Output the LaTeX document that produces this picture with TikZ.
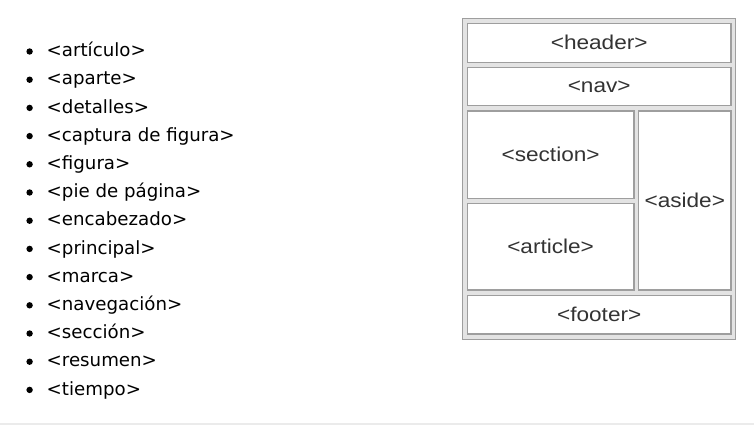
\documentclass[tikz,border=0pt]{standalone}
\usepackage{fontspec}
\setmainfont{DejaVu Sans}
\newfontfamily\arialf{Liberation Sans}
\definecolor{boxborder}{HTML}{9E9E9E}
\definecolor{outerfill}{HTML}{E3E3E3}
\definecolor{boxtext}{HTML}{333333}
\definecolor{sepline}{HTML}{EBEBEB}
\newcommand{\widetxt}[1]{\raisebox{-1.5pt}{\scalebox{1.13}[1]{#1}}}
\begin{document}
\begin{tikzpicture}[x=1pt,y=1pt,
  item/.style={anchor=base west,inner sep=0pt,font=\fontsize{18.2}{20}\selectfont},
  dot/.style={circle,fill=black,inner sep=0pt,minimum size=6.4pt},
  outerbox/.style={draw=boxborder,fill=outerfill,line width=1.3pt,inner sep=0pt,outer sep=0pt},
  areabox/.style={draw=boxborder,fill=white,line width=1.3pt,inner sep=0pt,outer sep=0pt,text=boxtext,font=\arialf\fontsize{20}{24}\selectfont}]
\useasboundingbox (0,0) rectangle (754,-439);
% list
\foreach \t [count=\i from 0] in {<artículo>,<aparte>,<detalles>,<captura de figura>,<figura>,<pie de página>,<encabezado>,<principal>,<marca>,<navegación>,<sección>,<resumen>,<tiempo>}{
  \node[dot] (b\i) at (29.6,{-56.7-28.2*\i+5.2}) {};
  \node[item] (t\i) at (46.5,{-56.7-28.2*\i}) {\t};
}
% layout diagram
\node[outerbox,minimum width=273.2pt,minimum height=321pt] (outer) at (598.9,-178.8) {};
\node[areabox,minimum width=263.7pt,minimum height=39pt] (header) at (599.2,-42.8) {\widetxt{<header>}};
\node[areabox,minimum width=263.7pt,minimum height=38.4pt] (nav) at (599.2,-86.5) {\widetxt{<nav>}};
\node[areabox,minimum width=166.7pt,minimum height=87.3pt] (section) at (550.6,-154.7) {\widetxt{<section>}};
\node[areabox,minimum width=166.7pt,minimum height=86.7pt] (article) at (550.6,-246.7) {\widetxt{<article>}};
\node[areabox,minimum width=92.3pt,minimum height=179pt] (aside) at (684.8,-200.5) {\widetxt{<aside>}};
\node[areabox,minimum width=263.7pt,minimum height=38.7pt] (footer) at (599.2,-314.7) {\widetxt{<footer>}};
% separator
\coordinate (sl) at (0,-424);
\coordinate (sr) at (754,-424);
\draw[sepline,line width=1.2pt] (sl) -- (sr);
\end{tikzpicture}
\end{document}
